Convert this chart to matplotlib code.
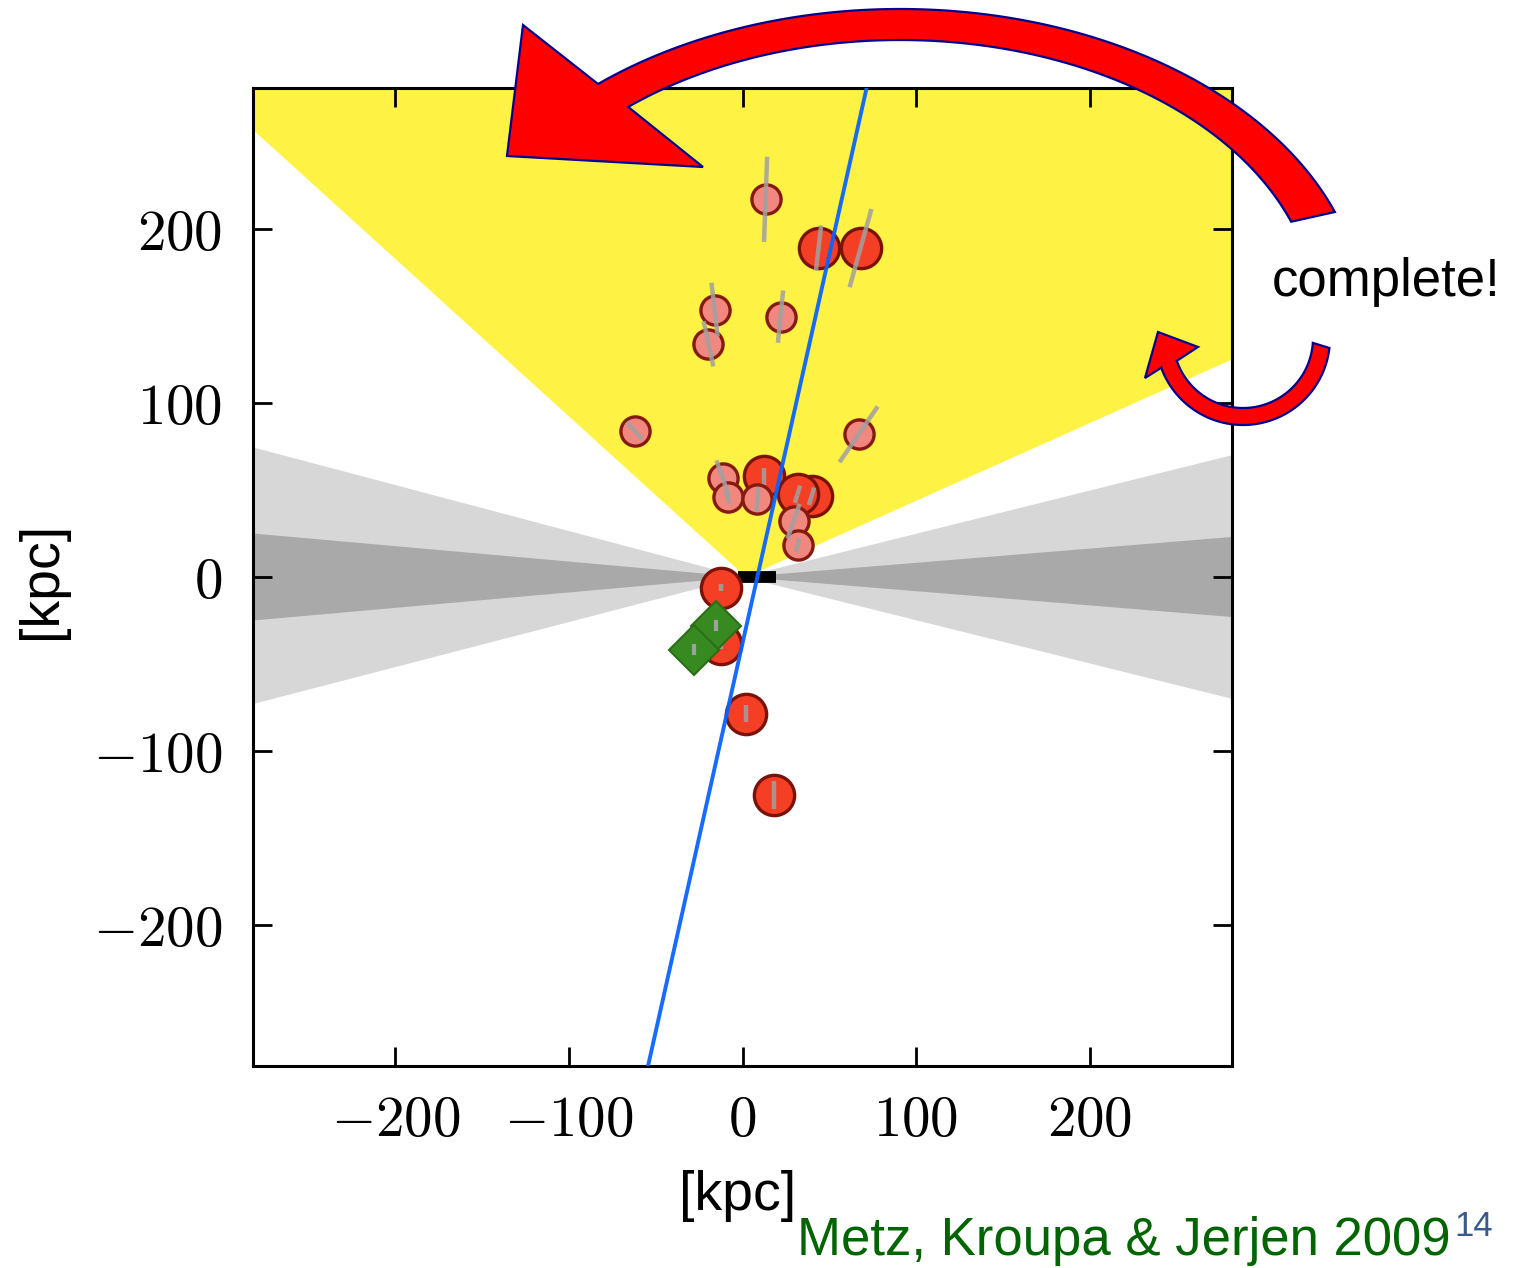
import matplotlib
matplotlib.use("Agg")
import matplotlib.pyplot as plt
import numpy as np
from matplotlib.patches import Polygon
from matplotlib.ticker import FuncFormatter

plt.rcParams["mathtext.fontset"] = "cm"
plt.rcParams["font.family"] = ["Liberation Sans", "DejaVu Sans"]

# satellites [kpc] - big (classical) ones
big_x = [43.8, 68.0, 12.1, 39.8, 31.7, -12.1, -12.1, 2.3, 17.9]
big_y = [189.0, 189.0, 57.9, 46.4, 47.6, -6.3, -38.4, -78.5, -125.5]
big_dx = [1.5, 6.3, 0.0, 1.5, 1.5, 0.0, 0.0, 0.0, 0.0]
big_dy = [13.0, 22.5, 5.0, 5.0, 5.0, 2.0, 3.0, 5.0, 8.0]

# ultra-faint ones
small_x = [13.3, -16.1, -19.6, 21.9, -62.2, 66.9, -11.5, -8.6, 8.6, 29.4, 31.7]
small_y = [217.0, 153.6, 134.0, 149.6, 84.0, 82.0, 57.0, 46.0, 44.7, 32.0, 18.3]
small_dx = [0.9, -1.8, -2.8, 1.5, -4.5, 11.0, -3.5, -1.2, 0.6, 3.5, 1.0]
small_dy = [24.5, 15.5, 13.0, 15.0, 5.0, 16.0, 10.0, 4.0, 7.0, 10.0, 4.0]

# magellanic clouds
green_x = [-15.0, -27.7]
green_y = [-28.0, -41.8]

# survey footprint and zone of avoidance
yellow_x = [2, -282, -282, 282, 282]
yellow_y = [0, 257, 282, 282, 125]
light_x = [-282, 0, -282, -282]
light_y = [74.5, 0, -73, 74.5]
light_rx = [282, 0, 282, 282]
light_ry = [70, 0, -70, 70]
dark_x = [-282, 0, -282, -282]
dark_y = [25, 0, -25, 25]
dark_rx = [282, 0, 282, 282]
dark_ry = [23, 0, -23, 23]

# disk of satellites (edge-on) and MW disk
plane_x = [-54.2, 71.5]
plane_y = [-280, 281]
disk_x = [-2.5, 19.5]
disk_y = [0, 0]

ticks = [-200, -100, 0, 100, 200]

fig = plt.figure(figsize=(15.18, 12.68), dpi=100)
ax = fig.add_axes([253 / 1518, 1 - 1066 / 1268, 979 / 1518, 978 / 1268])

ax.fill(yellow_x, yellow_y, color="#fef245", lw=0, zorder=0)
ax.fill(light_x, light_y, color="#d7d7d7", lw=0, zorder=0.5)
ax.fill(light_rx, light_ry, color="#d7d7d7", lw=0, zorder=0.5)
ax.fill(dark_x, dark_y, color="#a9a9a9", lw=0, zorder=0.6)
ax.fill(dark_rx, dark_ry, color="#a9a9a9", lw=0, zorder=0.6)

ax.plot(disk_x, disk_y, color="black", lw=8.5, solid_capstyle="butt", zorder=2)

ax.plot(big_x, big_y, "o", ms=29, mfc="#f43f25", mec="#7b1208", mew=2.4, zorder=3)
for x, y, dx, dy in zip(big_x, big_y, big_dx, big_dy):
    ax.plot([x - dx, x + dx], [y - dy, y + dy], color="#a0a0a0", lw=3.2, alpha=0.85,
            solid_capstyle="butt", zorder=3.5)

ax.plot(small_x, small_y, "o", ms=21, mfc="#f08880", mec="#861a10", mew=2.4, zorder=4)
for x, y, dx, dy in zip(small_x, small_y, small_dx, small_dy):
    ax.plot([x - dx, x + dx], [y - dy, y + dy], color="#a0a0a0", lw=3.2, alpha=0.85,
            solid_capstyle="butt", zorder=4.5)

ax.plot(green_x, green_y, "D", ms=25, mfc="#368a1f", mec="#2b6e17", mew=1.5, zorder=5)
for x, y in zip(green_x, green_y):
    ax.plot([x, x], [y - 2, y + 2], color="#a0a0a0", lw=3, zorder=5.5)

ax.plot(plane_x, plane_y, color="#0a64ff", lw=2.8, alpha=0.95, zorder=6)

ax.set_xlim(-282, 282)
ax.set_ylim(-281, 281)
ax.set_xticks(ticks)
ax.set_yticks(ticks)
fmt = FuncFormatter(lambda v, p: "$%d$" % int(v))
ax.xaxis.set_major_formatter(fmt)
ax.yaxis.set_major_formatter(fmt)
ax.tick_params(direction="in", length=14, width=2, top=True, right=True, labelsize=41)
ax.tick_params(axis="x", pad=20)
ax.tick_params(axis="y", pad=22)
for s in ax.spines.values():
    s.set_linewidth(2.2)

# overlay in pixel coordinates for labels and arrows
ov = fig.add_axes([0, 0, 1, 1], zorder=10)
ov.set_xlim(0, 1518)
ov.set_ylim(1268, 0)
ov.axis("off")


def arc_arrow(outer, inner, t_out, t_in, head):
    cx, cy, a, b = outer
    t = np.radians(np.linspace(t_out[0], t_out[1], 120))
    p_out = np.c_[cx + a * np.cos(t), cy - b * np.sin(t)]
    cx, cy, a, b = inner
    s = np.radians(np.linspace(t_in[1], t_in[0], 120))
    p_in = np.c_[cx + a * np.cos(s), cy - b * np.sin(s)]
    pts = np.vstack([p_out, head, p_in])
    ov.add_patch(Polygon(pts, closed=True, fc="#ff0000", ec="#000090", lw=1.6))


arc_arrow((900, 320.6, 464, 311.6), (900, 315.5, 416, 275.5), (20.4, 130.6), (19.9, 130.8),
          [(523, 25), (507, 156), (703, 167)])
arc_arrow((1243, 338, 87, 87), (1243, 338, 70, 70), (-6.6, -160), (-4, -161),
          [(1145, 378), (1158, 332), (1198, 347)])

ov.text(738, 1170, "[kpc]", ha="center", va="top", fontsize=40)
ov.text(42, 580, "[kpc]", ha="center", va="center", rotation=90, fontsize=40)
ov.text(1272, 296, "complete!", ha="left", va="baseline", fontsize=38)
ov.text(797, 1255, "Metz, Kroupa & Jerjen 2009", ha="left", va="baseline",
        fontsize=38, color="#006400")
ov.text(1454, 1236, "14", ha="left", va="baseline", fontsize=25, color="#3a5a8c")

fig.savefig("out.png", dpi=100)
